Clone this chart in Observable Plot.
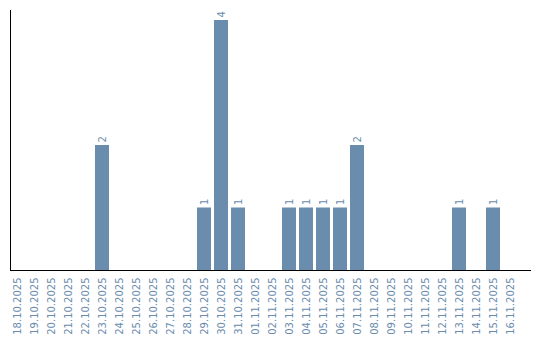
<!DOCTYPE html>
<html><head><meta charset="utf-8">
<script src="https://cdn.jsdelivr.net/npm/d3@7"></script>
<script src="https://cdn.jsdelivr.net/npm/@observablehq/plot@0.6"></script>
<style>body{margin:0;background:#fff}</style>
</head><body><div id="chart"></div>
<script>
const dates = ["18.10.2025","19.10.2025","20.10.2025","21.10.2025","22.10.2025","23.10.2025","24.10.2025","25.10.2025","26.10.2025","27.10.2025","28.10.2025","29.10.2025","30.10.2025","31.10.2025","01.11.2025","02.11.2025","03.11.2025","04.11.2025","05.11.2025","06.11.2025","07.11.2025","08.11.2025","09.11.2025","10.11.2025","11.11.2025","12.11.2025","13.11.2025","14.11.2025","15.11.2025","16.11.2025"];
const counts = [0,0,0,0,0,2,0,0,0,0,0,1,4,1,0,0,1,1,1,1,2,0,0,0,0,0,1,0,1,0];
const data = dates.map((d,i)=>({date:d, count:counts[i]}));
const color = "#6a8cad";
const chart = Plot.plot({
  width: 540, height: 340,
  marginLeft: 8.5, marginRight: 21.5, marginTop: 10, marginBottom: 70,
  style: {fontFamily: "DejaVu Sans", fontSize: "10px", background: "#fff"},
  x: {domain: dates, paddingInner: 0.1765, paddingOuter: 0.0882, label: null},
  y: {domain: [0, 4], range: [270, 20], axis: null},
  marks: [
    Plot.barY(data, {x: "date", y: "count", fill: color}),
    Plot.text(data.filter(d=>d.count>0), {x: "date", y: "count", text: d=>String(d.count), rotate: -90, textAnchor: "start", dy: -3, fill: color, fontSize: 10}),
    Plot.axisX({tickRotate: -90, tickSize: 0, tickPadding: 7, color: color, label: null, fontSize: 10}),
    Plot.frame({anchor: "left", stroke: "#000", insetLeft: 1.5}),
    Plot.frame({anchor: "bottom", stroke: "#000", insetLeft: 1.5, insetRight: -11.5})
  ]
});
document.getElementById("chart").append(chart);
</script>
</body></html>
